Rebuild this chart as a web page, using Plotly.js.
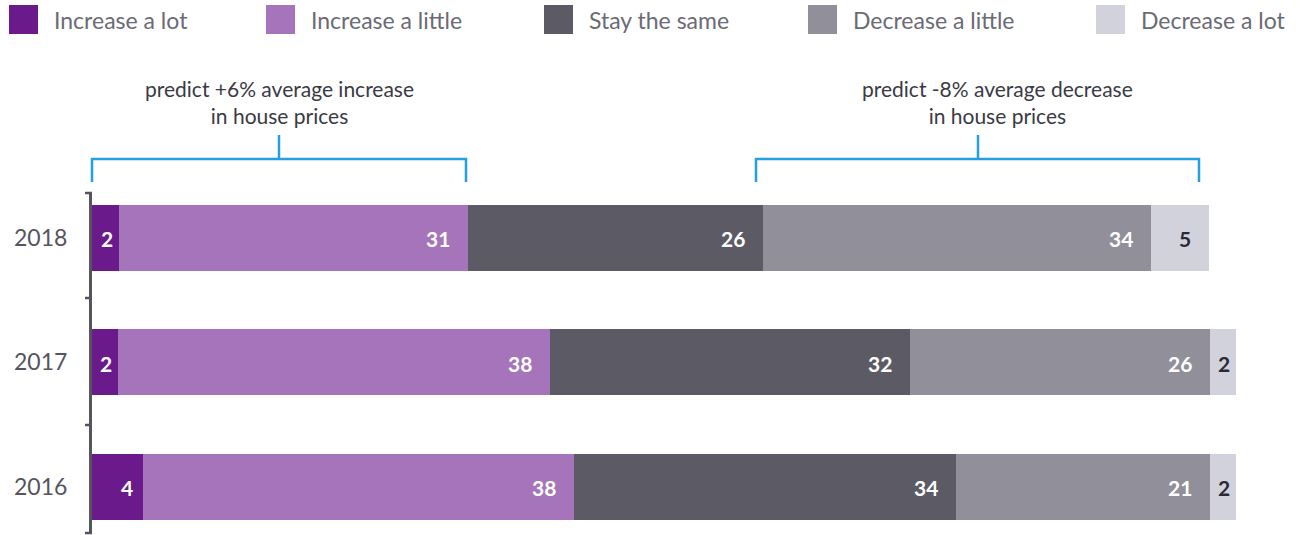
<!DOCTYPE html>
<html>
<head>
<meta charset="utf-8">
<script src="https://cdn.plot.ly/plotly-3.0.1.min.js"></script>
<style>html,body{margin:0;padding:0;background:#fff;}#chart{width:1303px;height:535px;}</style>
</head>
<body>
<div id="chart"></div>
<script>
// ---- data ----
const years = ['2016', '2017', '2018'];
const seriesNames = ['Increase a lot', 'Increase a little', 'Stay the same', 'Decrease a little', 'Decrease a lot'];
const increaseALot = [4.46, 2.27, 2.36];
const increaseALittle = [37.67, 37.76, 30.51];
const stayTheSame = [33.39, 31.47, 25.79];
const decreaseALittle = [22.20, 26.22, 33.92];
const decreaseALot = [2.27, 2.27, 5.07];
const labelsIncreaseALot = ['4', '2', '2'];
const labelsIncreaseALittle = ['38', '38', '31'];
const labelsStayTheSame = ['34', '32', '26'];
const labelsDecreaseALittle = ['21', '26', '34'];
const labelsDecreaseALot = ['2', '2', '5'];
const bracketTexts = ['predict +6% average increase<br>in house prices', 'predict -8% average decrease<br>in house prices'];

// ---- style ----
const colors = ['#6b1a8b', '#a574ba', '#5b5a65', '#918f9a', '#d2d2dc'];
const labelColors = ['#ffffff', '#ffffff', '#ffffff', '#ffffff', '#2a2a36'];
const FONT = 'Lato, "Open Sans", sans-serif';
const W = 1303, H = 535;
const L = 92, R = 67, T = 193, B = 2;
const plotW = W - L - R, plotH = H - T - B;
const px = x => (x - L) / plotW;
const py = y => (H - B - y) / plotH;

const allValues = [increaseALot, increaseALittle, stayTheSame, decreaseALittle, decreaseALot];
const allLabels = [labelsIncreaseALot, labelsIncreaseALittle, labelsStayTheSame, labelsDecreaseALittle, labelsDecreaseALot];

const traces = allValues.map((vals, i) => ({
  type: 'bar', orientation: 'h', x: vals, y: years, name: seriesNames[i],
  marker: {color: colors[i], line: {width: 0}}, width: 0.53,
  hoverinfo: 'none', showlegend: false
}));

const annotations = [];
// value labels (positioned from the data through the axes)
years.forEach((yr, j) => {
  let cum = 0;
  allValues.forEach((vals, i) => {
    const v = vals[j];
    cum += v;
    const narrow = v < 3;
    const pad = v < 4.8 ? 8 : 16;
    annotations.push({
      xref: 'x', yref: 'y', x: narrow ? cum - v / 2 : cum, y: j,
      xanchor: narrow ? 'center' : 'right', yanchor: 'middle',
      xshift: narrow ? 1 : -pad, yshift: -1,
      text: '<b>' + allLabels[i][j] + '</b>', showarrow: false,
      font: {family: FONT, size: 21, color: labelColors[i]}
    });
  });
});

// legend (custom, large squares)
const legendSquareX = [9, 266, 544, 808, 1096];
const shapes = [];
seriesNames.forEach((n, i) => {
  shapes.push({type: 'rect', xref: 'paper', yref: 'paper',
    x0: px(legendSquareX[i]), x1: px(legendSquareX[i] + 29), y0: py(34), y1: py(5),
    fillcolor: colors[i], line: {width: 0}});
  annotations.push({xref: 'paper', yref: 'paper', x: px(legendSquareX[i] + 43), y: py(20),
    xanchor: 'left', yanchor: 'middle', showarrow: false, text: n,
    font: {family: FONT, size: 23, color: '#6b6a75'}});
});

// y-axis tick marks
[193, 298, 425, 533].forEach(yp => {
  shapes.push({type: 'line', xref: 'paper', yref: 'paper', x0: px(85), x1: px(92), y0: py(yp), y1: py(yp),
    line: {color: '#55545f', width: 2.5}});
});

// brackets
const blue = '#23a0e2';
const brackets = [[92, 466, 279, 279], [756, 1199, 978, 997]];
brackets.forEach((b, k) => {
  shapes.push({type: 'path', xref: 'paper', yref: 'paper',
    path: `M${px(b[0])},${py(182)} L${px(b[0])},${py(159)} L${px(b[1])},${py(159)} L${px(b[1])},${py(182)}`,
    line: {color: blue, width: 2.5}});
  shapes.push({type: 'line', xref: 'paper', yref: 'paper', x0: px(b[2]), x1: px(b[2]), y0: py(135), y1: py(159),
    line: {color: blue, width: 2.5}});
  annotations.push({xref: 'paper', yref: 'paper', x: px(b[3]), y: py(102), xanchor: 'center', yanchor: 'middle',
    showarrow: false, text: bracketTexts[k], align: 'center',
    font: {family: FONT, size: 21, color: '#3a3a45'}});
});

const layout = {
  width: W, height: H,
  margin: {l: L, r: R, t: T, b: B, pad: 0},
  paper_bgcolor: '#ffffff', plot_bgcolor: '#ffffff',
  barmode: 'stack', bargap: 0,
  showlegend: false,
  xaxis: {range: [0, 100], showline: false, showgrid: false, zeroline: false, showticklabels: false, ticks: '', fixedrange: true},
  yaxis: {type: 'category', categoryorder: 'array', categoryarray: years, range: [-0.37, 2.36],
    showline: true, linecolor: '#55545f', linewidth: 3, ticks: '', showgrid: false, zeroline: false,
    ticklabelstandoff: 17, tickfont: {family: FONT, size: 23, color: '#55545f'}, fixedrange: true},
  shapes: shapes,
  annotations: annotations,
  font: {family: FONT}
};

Plotly.newPlot('chart', traces, layout, {displayModeBar: false, staticPlot: true});
</script>
</body>
</html>
